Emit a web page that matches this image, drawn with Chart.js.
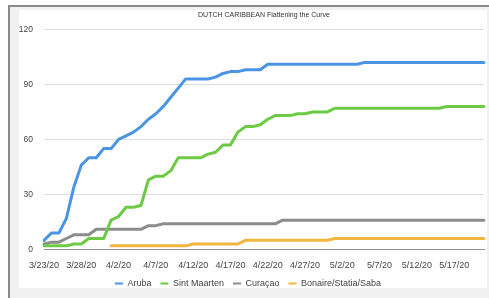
<!DOCTYPE html>
<html><head><meta charset="utf-8">
<script src="https://cdn.jsdelivr.net/npm/chart.js@4"></script>
<style>
html,body{margin:0;padding:0;background:#fff;width:489px;height:298px;overflow:hidden;}
#frame{position:absolute;left:8px;top:5px;width:481px;height:293px;border-left:2px solid #8a8a8a;border-top:2px solid #8a8a8a;background:#f1f1f1;box-sizing:border-box;}
#panel{position:absolute;left:19px;top:10px;width:468px;height:278px;background:#fff;}
#wrap{position:absolute;left:12px;top:10px;width:475px;height:288px;}
</style></head>
<body>
<div id="frame"></div>
<div id="panel"></div>
<div id="wrap"><canvas id="c"></canvas></div>
<script>
const dates = ["3/23/20","3/24/20","3/25/20","3/26/20","3/27/20","3/28/20","3/29/20","3/30/20","3/31/20",
"4/1/20","4/2/20","4/3/20","4/4/20","4/5/20","4/6/20","4/7/20","4/8/20","4/9/20","4/10/20","4/11/20","4/12/20","4/13/20","4/14/20","4/15/20","4/16/20","4/17/20","4/18/20","4/19/20","4/20/20","4/21/20","4/22/20","4/23/20","4/24/20","4/25/20","4/26/20","4/27/20","4/28/20","4/29/20","4/30/20",
"5/1/20","5/2/20","5/3/20","5/4/20","5/5/20","5/6/20","5/7/20","5/8/20","5/9/20","5/10/20","5/11/20","5/12/20","5/13/20","5/14/20","5/15/20","5/16/20","5/17/20","5/18/20","5/19/20","5/20/20","5/21/20"];

const seriesNames = ["Aruba","Sint Maarten","Curaçao","Bonaire/Statia/Saba"];

const aruba = [5,9,9,17,34,46,50,50,55,55,
60,62,64,67,71,74,78,83,88,93,
93,93,93,94,96,97,97,98,98,98,
101,101,101,101,101,101,101,101,101,101,101,101,101,
102,102,102,102,102,102,102,102,102,102,102,102,102,102,102,102,102];

const sintMaarten = [2,2,2,2,3,3,6,6,6,16,
18,23,23,24,38,40,40,43,50,50,
50,50,52,53,57,57,64,67,67,68,
71,73,73,73,74,74,75,75,75,
77,77,77,77,77,77,77,77,77,77,77,77,77,77,77,
78,78,78,78,78,78];

const curacao = [3,4,4,6,8,8,8,
11,11,11,11,11,11,11,
13,13,
14,14,14,14,14,14,14,14,14,14,14,14,14,14,14,14,
16,16,16,16,16,16,16,16,16,16,16,16,16,16,16,16,16,16,16,16,16,16,16,16,16,16,16,16];

const bonaireStatiaSaba = [null,null,null,null,null,null,null,null,null,
2,2,2,2,2,2,2,2,2,2,2,
3,3,3,3,3,3,3,
5,5,5,5,5,5,5,5,5,5,5,5,
6,6,6,6,6,6,6,6,6,6,6,6,6,6,6,6,6,6,6,6,6];

const yTicks = [0,30,60,90,120];
const colors = ["#4a94e6","#6cca44","#8c8c8c","#f2b53e"];
const FONT = "'Liberation Sans', Arial, sans-serif";

const ds = [aruba, sintMaarten, curacao, bonaireStatiaSaba].map((d,i)=>({
  label: seriesNames[i], data: d, borderColor: colors[i], backgroundColor: colors[i],
  borderWidth: 3, pointRadius: 0, tension: 0, fill: false, borderJoinStyle: 'round', borderCapStyle: 'round'
}));

new Chart(document.getElementById('c'), {
  type: 'line',
  data: { labels: dates, datasets: ds },
  options: {
    responsive: true, maintainAspectRatio: false, animation: false, devicePixelRatio: 1,
    layout: { padding: { left: 0, right: 3, top: 0, bottom: 0 } },
    plugins: {
      tooltip: { enabled: false },
      title: { display: true, text: 'DUTCH CARIBBEAN Flattening the Curve', fullSize: false,
        color: '#333', font: { family: FONT, size: 7, weight: 'normal' }, padding: { top: 1, bottom: 10 } },
      legend: { position: 'bottom',
        labels: { boxWidth: 8, boxHeight: 2, padding: 9, color: '#444', font: { family: FONT, size: 9 },
          generateLabels: (chart) => Chart.defaults.plugins.legend.labels.generateLabels(chart).map(l => Object.assign(l, { fillStyle: l.strokeStyle, lineWidth: 0 })) } }
    },
    scales: {
      x: { type: 'category', offset: false,
        grid: { display: false },
        border: { display: true, color: '#8c8c8c', width: 1 },
        ticks: { autoSkip: false, maxRotation: 0, minRotation: 0, padding: 3, color: '#444',
          font: { family: FONT, size: 9 },
          callback: (v, i) => (i % 5 === 0 ? dates[i] : '') },
        afterFit: (s) => { s.height = 20.5; } },
      y: { min: 0, max: 120,
        afterBuildTicks: (s) => { s.ticks = yTicks.map(v => ({ value: v })); },
        grid: { color: '#dedede', lineWidth: 1, drawTicks: false },
        border: { display: false },
        ticks: { padding: 11, color: '#444', font: { family: FONT, size: 8.5 } },
        afterFit: (s) => { s.width = 32; } }
    }
  }
});
</script>
</body></html>
